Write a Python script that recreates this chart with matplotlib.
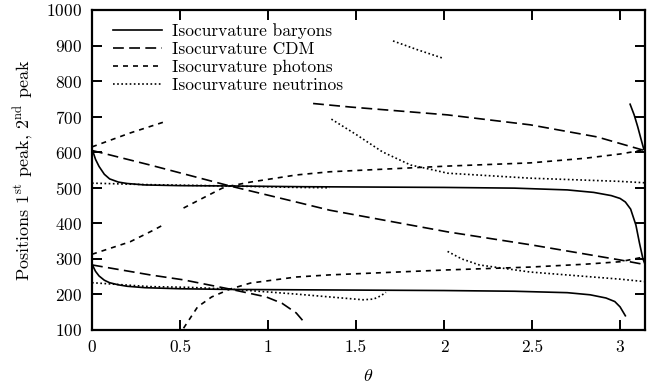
import numpy as np
import matplotlib
matplotlib.use("Agg")
import matplotlib.pyplot as plt

plt.rcParams['font.family'] = ['cmr10', 'DejaVu Serif']
plt.rcParams['mathtext.fontset'] = 'cm'
plt.rcParams['axes.formatter.use_mathtext'] = True

# ---- data (theta, peak position) ----
bary_x2 = [0, 0.01, 0.02, 0.04, 0.07, 0.1, 0.15, 0.2, 0.3, 0.5, 0.8, 1.2, 1.6, 2.0, 2.4, 2.7,
           2.85, 2.95, 3.0, 3.03, 3.06, 3.09, 3.11, 3.13, 3.1416]
bary_y2 = [605, 595, 580, 560, 538, 525, 516, 512, 508, 506, 505, 503, 502, 501, 499, 494,
           487, 478, 470, 460, 440, 395, 345, 300, 285]
bary_x1 = [0, 0.01, 0.02, 0.04, 0.07, 0.1, 0.15, 0.2, 0.3, 0.5, 0.8, 1.2, 1.6, 2.0, 2.4, 2.7,
           2.83, 2.92, 2.97, 3.0, 3.03]
bary_y1 = [285, 275, 265, 252, 240, 233, 227, 223, 219, 216, 214, 213, 212, 211, 209, 205,
           199, 190, 180, 165, 140]
bary_x3 = [3.057, 3.08, 3.10, 3.12, 3.135]
bary_y3 = [735, 705, 672, 635, 608]

cdm_x2 = [0, 0.33, 0.784, 1.16, 1.35, 2.02, 2.5, 3.0, 3.13, 3.1416]
cdm_y2 = [605, 564, 505, 460, 437, 376, 339, 297, 285, 284]
cdm_x3 = [1.256, 1.47, 2.02, 2.49, 2.87, 3.13, 3.1416]
cdm_y3 = [737, 727, 705, 677, 643, 606, 602]
cdm_x1 = [0, 0.33, 0.52, 0.784, 0.99, 1.08, 1.16, 1.2]
cdm_y1 = [283, 255, 241, 215, 193, 175, 148, 125]

pho_x3 = [0, 0.216, 0.415]
pho_y3 = [615, 654, 686]
pho_x2a = [0, 0.216, 0.35, 0.41]
pho_y2a = [313, 348, 381, 397]
pho_x2b = [0.52, 0.61, 0.74, 0.784, 0.90, 1.16, 1.35, 2.02, 2.49, 2.8, 3.0, 3.1416]
pho_y2b = [443, 466, 499, 505, 516, 536, 545, 561, 570, 583, 595, 607]
pho_x1 = [0.52, 0.60, 0.68, 0.784, 0.90, 1.16, 1.35, 2.02, 2.49, 2.8, 3.0, 3.1416]
pho_y1 = [105, 165, 193, 215, 232, 249, 255, 269, 277, 285, 292, 306]

neu_x2a = [0, 0.3, 0.784, 1.16, 1.35]
neu_y2a = [513, 509, 505, 501, 500]
neu_x2b = [1.36, 1.5, 1.65, 1.81, 1.94, 2.02, 2.49, 3.0, 3.1416]
neu_y2b = [693, 650, 601, 564, 550, 541, 527, 518, 514]
neu_x3 = [1.71, 1.85, 1.99]
neu_y3 = [913, 888, 865]
neu_x1a = [0, 0.33, 0.55, 0.784, 1.16, 1.35, 1.54, 1.6, 1.64, 1.67]
neu_y1a = [233, 222, 220, 215, 201, 193, 185, 187, 196, 206]
neu_x1b = [2.02, 2.1, 2.2, 2.49, 3.0, 3.1416]
neu_y1b = [321, 300, 283, 263, 243, 236]

labels = ['Isocurvature baryons', 'Isocurvature CDM',
          'Isocurvature photons', 'Isocurvature neutrinos']
xticks = [0, 0.5, 1, 1.5, 2, 2.5, 3]
xticklabels = ['0', '0.5', '1', '1.5', '2', '2.5', '3']
yticks = [100, 200, 300, 400, 500, 600, 700, 800, 900, 1000]

fig = plt.figure(figsize=(6.59, 3.9), dpi=100)
ax = fig.add_axes([92/659, 60/390, 553/659, 320/390])

k = dict(color='black', lw=1.2)
s_b = dict(linestyle='-', **k)
s_c = dict(dashes=(6.5, 3.2), **k)
s_p = dict(dashes=(3, 3), **k)
s_n = dict(dashes=(1, 1.5), **k)

ax.plot(bary_x2, bary_y2, label=labels[0], **s_b)
ax.plot(bary_x1, bary_y1, **s_b)
ax.plot(bary_x3, bary_y3, **s_b)
ax.plot(cdm_x2, cdm_y2, label=labels[1], **s_c)
ax.plot(cdm_x3, cdm_y3, **s_c)
ax.plot(cdm_x1, cdm_y1, **s_c)
ax.plot(pho_x3, pho_y3, label=labels[2], **s_p)
ax.plot(pho_x2a, pho_y2a, **s_p)
ax.plot(pho_x2b, pho_y2b, **s_p)
ax.plot(pho_x1, pho_y1, **s_p)
ax.plot(neu_x2a, neu_y2a, label=labels[3], **s_n)
ax.plot(neu_x2b, neu_y2b, **s_n)
ax.plot(neu_x3, neu_y3, **s_n)
ax.plot(neu_x1a, neu_y1a, **s_n)
ax.plot(neu_x1b, neu_y1b, **s_n)

ax.set_xlim(0, np.pi)
ax.set_ylim(100, 1000)
ax.set_xticks(xticks)
ax.set_xticklabels(xticklabels)
ax.set_yticks(yticks)
ax.tick_params(direction='in', length=7, width=1.4, top=True, right=True,
               labelsize=12.5, pad=7)
for sp in ax.spines.values():
    sp.set_linewidth(1.6)

ax.set_xlabel(r'$\theta$', fontsize=13, labelpad=9)
ax.set_ylabel(r'Positions 1$^{\rm st}$ peak, 2$^{\rm nd}$ peak', fontsize=13, labelpad=8)

leg = ax.legend(loc='upper left', bbox_to_anchor=(0.02, 0.99), frameon=False,
                fontsize=12.5, handlelength=2.8, handletextpad=0.55,
                labelspacing=0.15, borderaxespad=0.2)

fig.savefig('out.png', dpi=100)
